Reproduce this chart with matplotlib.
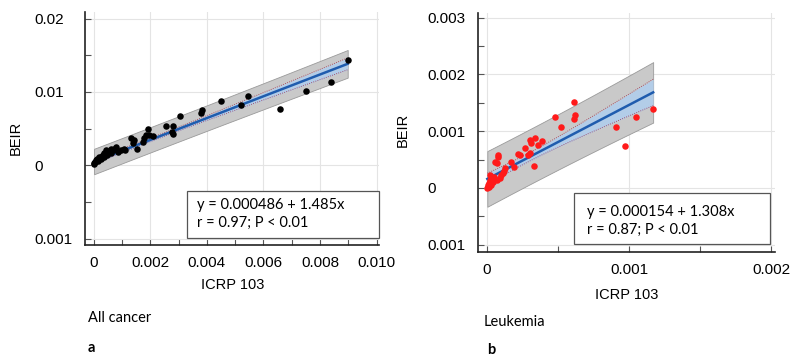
"""BEIR vs ICRP 103 risk estimates: all cancer and leukemia."""

import numpy as np
import matplotlib.pyplot as plt
from matplotlib.patches import Rectangle

plt.rcParams["font.family"] = ["Liberation Sans", "DejaVu Sans"]

# --- all cancer (panel a) ---
cancer_x = [0.00898, 0.0084, 0.00749, 0.00658, 0.00547, 0.00519, 0.00449,
            0.00383, 0.00380, 0.00305, 0.00281, 0.00275, 0.00256, 0.00279,
            0.00190, 0.00185, 0.00179, 0.00196, 0.00208, 0.00173, 0.00153,
            0.00132, 0.00143, 0.00137, 0.00108, 0.00096, 0.00079, 0.00073,
            0.00067, 0.00061, 0.00055, 0.00043, 0.00037, 0.00031, 0.00049,
            0.00019, 0.00013, 0.00008, 0.00004, 0.00002, 0.00001, 0.00025,
            0.00035, 0.00015, 0.00028, 0.00045, 0.00085, 0.0011, 0.00062]
cancer_y = [0.01441, 0.01132, 0.01018, 0.0076, 0.00945, 0.00818, 0.00882,
            0.0075, 0.00705, 0.00670, 0.00532, 0.00454, 0.00532, 0.00432,
            0.00487, 0.0041, 0.00364, 0.0041, 0.00395, 0.00318, 0.00227,
            0.00364, 0.00341, 0.00296, 0.00227, 0.00205, 0.0025, 0.00227,
            0.00205, 0.00227, 0.00182, 0.00205, 0.0016, 0.00136, 0.00182,
            0.00113, 0.00091, 0.00068, 0.00045, 0.00023, 0.00014, 0.0009,
            0.0011, 0.0006, 0.0012, 0.0014, 0.0018, 0.0021, 0.0016]
cancer_fit = (0.000486, 1.485)

# --- leukemia (panel b) ---
leuk_x = [0.00117, 0.00105, 0.00091, 0.00097, 0.00061, 0.00062, 0.00061,
          0.00048, 0.00052, 0.00034, 0.00030, 0.00031, 0.00039, 0.00036,
          0.00027, 0.00030, 0.00029, 0.00022, 0.00023, 0.00033, 0.00017,
          0.00019, 0.000075, 0.00008, 0.00006, 0.00007, 0.00013, 0.00012,
          0.00011, 0.00010, 0.00009, 0.00007, 0.00005, 0.000025, 0.00002,
          0.000016, 0.00001, 0.000005, 0.000003, 0.000028, 0.000016, 0.00004]
leuk_y = [0.00139, 0.00125, 0.00108, 0.00074, 0.00152, 0.00129, 0.00122,
          0.00125, 0.00108, 0.00088, 0.00085, 0.00079, 0.00082, 0.00075,
          0.00070, 0.00061, 0.00058, 0.00060, 0.00058, 0.00039, 0.00045,
          0.00036, 0.00055, 0.00058, 0.00046, 0.00044, 0.00035, 0.00029,
          0.00026, 0.00023, 0.00017, 0.00014, 0.00020, 0.00023, 0.00014,
          0.00008, 0.00005, 0.00002, 0.000005, 0.00005, 0.00002, 0.00011]
leuk_fit = (0.000154, 1.308)


def draw_panel(ax, x, y, fit, color, note, ypad):
    x = np.asarray(x)
    y = np.asarray(y)
    a, b = fit
    n = len(x)
    resid = y - (a + b * x)
    s = np.sqrt(np.sum(resid ** 2) / (n - 2))
    xs = np.linspace(x.min(), x.max(), 100)
    ys = a + b * xs
    lev = (xs - x.mean()) ** 2 / np.sum((x - x.mean()) ** 2)
    ci = 2.0 * s * np.sqrt(1 / n + lev)
    pi = 2.0 * s * np.sqrt(1 + 1 / n + lev)

    ax.fill_between(xs, ys - pi, ys + pi, color="#c9c9c9", ec="#9a9a9a",
                    lw=0.6, zorder=1)
    ax.fill_between(xs, ys - ci, ys + ci, color="#b3cde8", lw=0, zorder=2)
    ax.plot(xs, ys - ci, color="#a0304a", lw=0.6, ls=":", zorder=3)
    ax.plot(xs, ys + ci, color="#a0304a", lw=0.6, ls=":", zorder=3)
    ax.plot(xs, ys, color="#1f5cae", lw=1.8, zorder=4)
    ax.scatter(x, y, s=22, color=color, lw=0, zorder=5)

    ax.grid(True, which="major", color="#e4e4e4", lw=0.8)
    ax.set_axisbelow(True)
    for side in ("top", "right"):
        ax.spines[side].set_visible(False)
    for side in ("left", "bottom"):
        ax.spines[side].set_linewidth(1.2)
        ax.spines[side].set_color("#222222")
    ax.tick_params(which="both", direction="in", length=4, width=0.8,
                   color="#555555", labelsize=11)
    ax.tick_params(axis="x", which="both", pad=8)
    ax.tick_params(axis="y", which="both", pad=ypad)
    for lab in ax.get_yticklabels():
        lab.set_horizontalalignment("left")
    ax.set_xlabel("ICRP 103", fontsize=10.5)
    ax.set_ylabel("BEIR", fontsize=10.5)

    ax.add_patch(Rectangle((note[0], note[1]), note[2], note[3],
                           transform=ax.transAxes, fc="white", ec="#555555",
                           lw=0.9, zorder=6, clip_on=False))
    ax.text(note[4], note[5], f"y = {a:.6f} + {b:.3f}x",
            transform=ax.transAxes, family="Lato", fontsize=10.5,
            va="center", zorder=7)
    ax.text(note[4], note[6], note[7], transform=ax.transAxes,
            family="Lato", fontsize=10.5, va="center", zorder=7)


fig = plt.figure(figsize=(7.92, 3.61), dpi=100)

ax1 = fig.add_axes([0.107, 0.321, 0.372, 0.646])
ax1.set_xlim(-0.00032, 0.0101)
ax1.set_ylim(-0.0109, 0.0209)
ax1.set_xticks([0, 0.002, 0.004, 0.006, 0.008, 0.010])
ax1.set_xticklabels(["0", "0.002", "0.004", "0.006", "0.008", "0.010"])
ax1.set_xticks(np.arange(0.001, 0.0100, 0.002), minor=True)
ax1.set_yticks([-0.01, 0, 0.01, 0.02])
ax1.set_yticklabels(["0.001", "0", "0.01", "0.02"])
ax1.set_yticks([-0.005, 0.005, 0.015], minor=True)
draw_panel(ax1, cancer_x, cancer_y, cancer_fit, "black",
           (0.347, 0.03, 0.653, 0.202, 0.381, 0.172, 0.094,
            "r = 0.97; P < 0.01"), 36)
ax1.xaxis.set_label_coords(0.503, -0.142)
ax1.yaxis.set_label_coords(-0.211, 0.46)

ax2 = fig.add_axes([0.604, 0.302, 0.375, 0.663])
ax2.set_xlim(-0.00006, 0.00203)
ax2.set_ylim(-0.00113, 0.00309)
ax2.set_xticks([0, 0.001, 0.002])
ax2.set_xticklabels(["0", "0.001", "0.002"])
ax2.set_xticks([0.0005, 0.0015], minor=True)
ax2.set_yticks([-0.001, 0, 0.001, 0.002, 0.003])
ax2.set_yticklabels(["0.001", "0", "0.001", "0.002", "0.003"])
ax2.set_yticks([-0.0005, 0.0005, 0.0015, 0.0025], minor=True)
draw_panel(ax2, leuk_x, leuk_y, leuk_fit, "#ff1a1a",
           (0.323, 0.033, 0.66, 0.214, 0.367, 0.167, 0.092,
            "r = 0.87; P < 0.01"), 37)
ax2.xaxis.set_label_coords(0.50, -0.15)
ax2.yaxis.set_label_coords(-0.232, 0.51)

fig.text(0.111, 0.119, "All cancer", family="Lato", fontsize=10.5,
         va="center")
fig.text(0.111, 0.036, "a", family="Lato", fontsize=10.5, weight="bold",
         va="center")
fig.text(0.611, 0.108, "Leukemia", family="Lato", fontsize=10.5,
         va="center")
fig.text(0.615, 0.030, "b", family="Lato", fontsize=10.5, weight="bold",
         va="center")

fig.savefig("out.png", dpi=100)
plt.close(fig)
